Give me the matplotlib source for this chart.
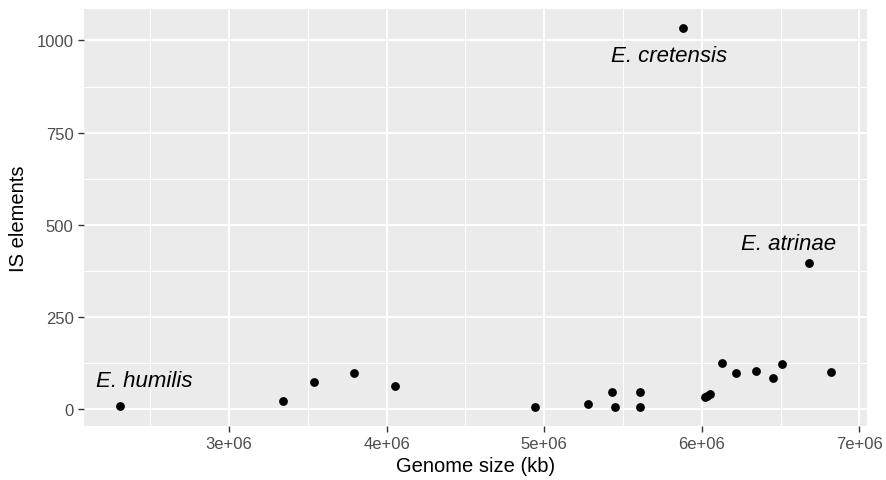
import matplotlib
matplotlib.use("Agg")
import matplotlib.pyplot as plt
from matplotlib.ticker import MultipleLocator, FuncFormatter

# genome size vs. number of IS elements per genome
genome_size = [2.306e6, 3.342e6, 3.537e6, 3.792e6, 4.053e6,
               4.939e6, 5.278e6, 5.430e6, 5.450e6, 5.605e6, 5.608e6,
               6.020e6, 6.035e6, 6.049e6, 6.130e6, 6.217e6, 6.342e6,
               6.452e6, 6.511e6, 6.683e6, 6.822e6, 5.878e6]
is_elements = [9, 21, 74, 97, 61,
               5, 12, 45, 6, 45, 5,
               32, 36, 40, 125, 98, 103,
               83, 121, 396, 100, 1034]

# species labels (text position in data units)
label_text = ["E. humilis", "E. cretensis", "E. atrinae"]
label_x = [2.460e6, 5.791e6, 6.547e6]
label_y = [76, 959, 448]

plt.rcParams['font.family'] = ['Liberation Sans', 'DejaVu Sans']

fig = plt.figure(figsize=(8.87, 4.81), dpi=100)
ax = fig.add_axes([84/887, 1-427/481, 783/887, 417/481])
ax.set_facecolor('#EBEBEB')

ax.scatter(genome_size, is_elements, s=40, color='black', zorder=3, linewidths=0)
for t, x, y in zip(label_text, label_x, label_y):
    ax.text(x, y, t, style='italic', fontsize=16, ha='center', va='center', zorder=4)

def expand(vals, f=0.05):
    lo, hi = min(vals), max(vals)
    d = (hi - lo) * f
    return lo - d, hi + d

ax.set_xlim(*expand(genome_size))
ax.set_ylim(*expand(is_elements))

ax.xaxis.set_major_locator(MultipleLocator(1e6))
ax.xaxis.set_minor_locator(MultipleLocator(5e5))
ax.yaxis.set_major_locator(MultipleLocator(250))
ax.yaxis.set_minor_locator(MultipleLocator(125))
ax.xaxis.set_major_formatter(FuncFormatter(lambda v, p: '%de+06' % round(v / 1e6)))

ax.grid(which='major', color='white', linewidth=1.5, zorder=0)
ax.grid(which='minor', color='white', linewidth=0.75, zorder=0)
ax.set_axisbelow(True)
for s in ax.spines.values():
    s.set_visible(False)

ax.tick_params(which='major', length=4.5, width=1.0, color='#333333',
               labelsize=12, labelcolor='#4D4D4D', pad=3)
ax.tick_params(which='minor', length=0)

ax.set_xlabel('Genome size (kb)', fontsize=14.5, labelpad=3)
ax.set_ylabel('IS elements', fontsize=14.5, labelpad=6)

fig.savefig('out.png', dpi=100)
